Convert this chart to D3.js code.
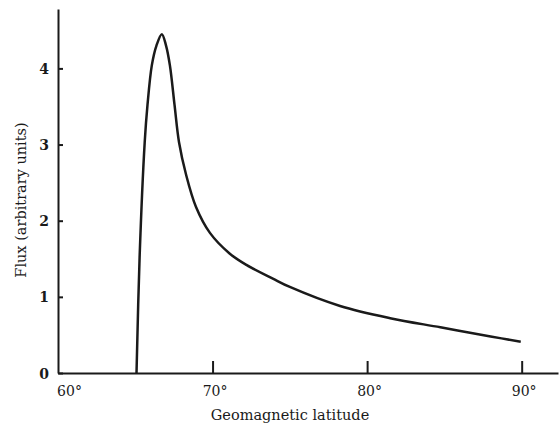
<!DOCTYPE html>
<html>
<head>
    <meta charset="utf-8">
    <title>Flux vs geomagnetic latitude</title>
    <script src="https://cdn.jsdelivr.net/npm/d3@7"></script>
    <style>
        body { margin: 0; background: #fff; }
        text { font-family: "DejaVu Serif", serif; fill: #1a1a1a; }
    </style>
</head>
<body>
    <div id="chart"></div>
    <script>
        var width = 559,
            height = 425;

        // values
        var latitude = [65.08, 65.28, 65.61, 65.79, 66.07, 66.37, 66.72, 66.99, 67.24, 67.54, 67.83,
                        68.28, 68.93, 69.83, 71.10, 72.19, 73.90, 75.0, 78.25, 81.49, 84.74, 87.99, 89.94];
        var flux = [0, 1.52, 3.03, 3.52, 4.04, 4.30, 4.45, 4.30, 4.04, 3.52, 3.03,
                    2.61, 2.18, 1.84, 1.57, 1.42, 1.24, 1.13, 0.88, 0.72, 0.60, 0.48, 0.41];
        var xTicks = [60, 70, 80, 90];
        var yTicks = [0, 1, 2, 3, 4];

        var x = d3.scaleLinear().domain([60, 92.35]).range([58, 558]);
        var y = d3.scaleLinear().domain([0, 4.78]).range([373, 9]);

        var svg = d3.select("#chart").append("svg")
            .attr("width", width)
            .attr("height", height);

        // y axis
        var yAxis = svg.append("g")
            .attr("transform", "translate(" + x(60) + ",0)")
            .call(d3.axisLeft(y).tickValues(yTicks).tickFormat(d3.format("d"))
                .tickSize(-5).tickPadding(9).tickSizeOuter(0));
        yAxis.select(".domain").attr("stroke", "#1a1a1a").attr("stroke-width", 2);
        yAxis.selectAll(".tick line").attr("stroke", "#1a1a1a").attr("stroke-width", 2);
        yAxis.selectAll(".tick text").style("font-size", "14px").style("font-weight", "bold").attr("dy", "0.36em");

        // x axis
        var xAxis = svg.append("g")
            .attr("transform", "translate(0," + y(0) + ")")
            .call(d3.axisBottom(x).tickValues(xTicks).tickFormat(function(d){ return d + "°"; })
                .tickSize(-12).tickPadding(13).tickSizeOuter(0));
        xAxis.select(".domain").attr("stroke", "#1a1a1a").attr("stroke-width", 2);
        xAxis.selectAll(".tick line").attr("stroke", "#1a1a1a").attr("stroke-width", 2)
            .attr("opacity", function(d){ return d === 60 ? 0 : 1; });
        xAxis.selectAll(".tick text").style("font-size", "14px")
            .attr("dx", function(d){ return d === 60 ? 11 : 2; });

        // axis titles
        svg.append("text")
            .attr("x", 290)
            .attr("y", 420)
            .attr("text-anchor", "middle")
            .style("font-size", "14.5px")
            .text("Geomagnetic latitude");

        svg.append("text")
            .attr("transform", "translate(26,200) rotate(-90)")
            .attr("text-anchor", "middle")
            .style("font-size", "14.5px")
            .text("Flux (arbitrary units)");

        // curve
        var line = d3.line()
            .x(function(d, i){ return x(latitude[i]); })
            .y(function(d){ return y(d); })
            .curve(d3.curveCatmullRom.alpha(0.5));

        svg.append("path")
            .datum(flux)
            .attr("d", line)
            .attr("fill", "none")
            .attr("stroke", "#1a1a1a")
            .attr("stroke-width", 2.5);
    </script>
</body>
</html>
